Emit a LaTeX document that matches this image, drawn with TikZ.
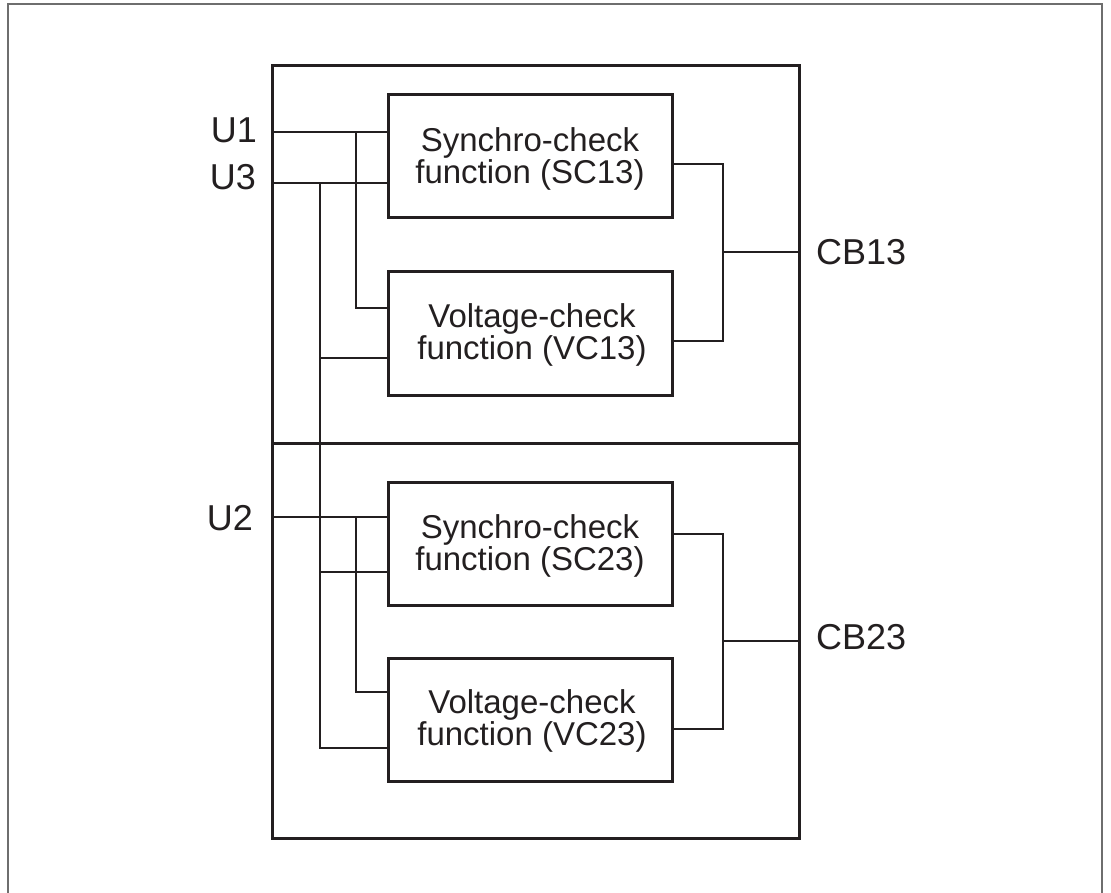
\documentclass[tikz,border=0pt]{standalone}
\usepackage{fontspec}
\setmainfont{Liberation Sans}
\definecolor{ink}{HTML}{231F20}
\definecolor{framegray}{HTML}{6E6E6E}
\begin{document}
\begin{tikzpicture}[x=1pt,y=-1pt,
  frameline/.style={draw=framegray, line width=1.5pt},
  section/.style={draw=ink, line width=3pt, inner sep=0pt, outer sep=0pt, minimum width=527pt},
  funcbox/.style={draw=ink, line width=3pt, inner sep=0pt, outer sep=0pt,
    minimum width=284pt, minimum height=123pt},
  boxtext/.style={align=center, text=ink, inner sep=0pt,
    font=\fontsize{33}{32}\selectfont},
  wire/.style={draw=ink, line width=1.3pt},
  lbl/.style={text=ink, inner sep=0pt, font=\fontsize{36}{36}\selectfont}]
\useasboundingbox (0,0) rectangle (1111,893);
% outer frame (open at the bottom)
\draw[frameline] (8,893) -- (8,4) -- (1102,4) -- (1102,893);
% sections
\node[section, minimum height=377pt] (top) at (535.5,254.5) {};
\node[section, minimum height=395pt] (bot) at (535.5,640.5) {};
% function boxes
\node[funcbox] (sc13) at (530,156.5) {};
\node[funcbox] (vc13) at (530,333.5) {};
\node[funcbox] (sc23) at (530,543.5) {};
\node[funcbox] (vc23) at (530,719.5) {};
\node[boxtext] (sc13t) at ([yshift=-2.5pt]sc13.center) {Synchro-check\\function (SC13)};
\node[boxtext] (vc13t) at ([xshift=2pt,yshift=-1pt]vc13.center) {Voltage-check\\function (VC13)};
\node[boxtext] (sc23t) at ([yshift=-2.5pt]sc23.center) {Synchro-check\\function (SC23)};
\node[boxtext] (vc23t) at ([xshift=2pt,yshift=-1pt]vc23.center) {Voltage-check\\function (VC23)};
% labels
\node[lbl, anchor=east] (lu1) at (257,130) {U1};
\node[lbl, anchor=east] (lu3) at (256,177) {U3};
\node[lbl, anchor=east] (lu2) at (253,518) {U2};
\node[lbl, anchor=west] (lcb13) at (816,252) {CB13};
\node[lbl, anchor=west] (lcb23) at (816,637) {CB23};
% helper coordinates
\coordinate (busA) at (320,0);
\coordinate (busB) at (356,0);
\coordinate (joinX) at (723,0);
\coordinate (yU1) at (0,132);
\coordinate (yU3) at (0,183);
\coordinate (yV1a) at (0,308);
\coordinate (yV1b) at (0,358);
\coordinate (yU2) at (0,517);
\coordinate (yS2b) at (0,572);
\coordinate (yV2a) at (0,692);
\coordinate (yV2b) at (0,748);
\coordinate (yO1) at (0,164);
\coordinate (yO2) at (0,341);
\coordinate (yCB1) at (0,252);
\coordinate (yO3) at (0,534);
\coordinate (yO4) at (0,729);
\coordinate (yCB2) at (0,641);
% inputs, upper part
\draw[wire] (yU1 -| top.west) -- (yU1 -| sc13.west);
\draw[wire] (yU3 -| top.west) -- (yU3 -| sc13.west);
\draw[wire] (yU1 -| busB) -- (yV1a -| busB) -- (yV1a -| vc13.west);
\draw[wire] (yU3 -| busA) -- (yV2b -| busA) -- (yV2b -| vc23.west);
\draw[wire] (yV1b -| busA) -- (yV1b -| vc13.west);
% inputs, lower part
\draw[wire] (yU2 -| bot.west) -- (yU2 -| sc23.west);
\draw[wire] (yS2b -| busA) -- (yS2b -| sc23.west);
\draw[wire] (yU2 -| busB) -- (yV2a -| busB) -- (yV2a -| vc23.west);
% outputs
\draw[wire] (yO1 -| sc13.east) -- (yO1 -| joinX) -- (yO2 -| joinX) -- (yO2 -| vc13.east);
\draw[wire] (yCB1 -| joinX) -- (yCB1 -| top.east);
\draw[wire] (yO3 -| sc23.east) -- (yO3 -| joinX) -- (yO4 -| joinX) -- (yO4 -| vc23.east);
\draw[wire] (yCB2 -| joinX) -- (yCB2 -| bot.east);
\end{tikzpicture}
\end{document}
